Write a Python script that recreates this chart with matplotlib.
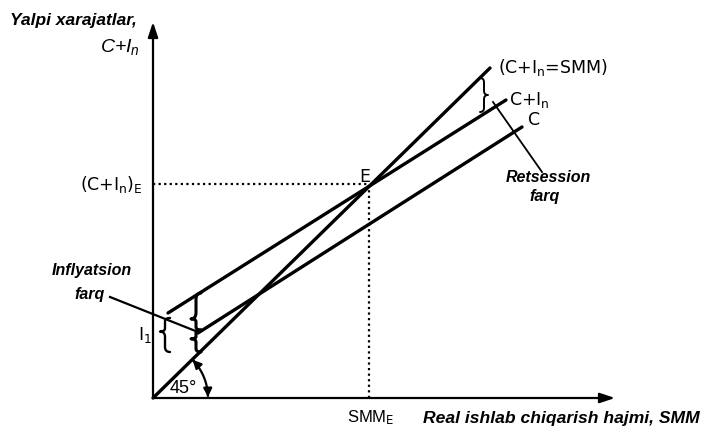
import numpy as np
import matplotlib
matplotlib.use("Agg")
import matplotlib.pyplot as plt
from matplotlib.path import Path
from matplotlib.patches import PathPatch, FancyArrowPatch

plt.rcParams['font.family'] = ['Liberation Sans', 'DejaVu Sans']
plt.rcParams['mathtext.fontset'] = 'custom'
plt.rcParams['mathtext.rm'] = 'DejaVu Sans'
plt.rcParams['mathtext.it'] = 'Liberation Sans:italic'
plt.rcParams['mathtext.default'] = 'regular'

# ---- data (in diagram units) ----
line45_x = [0, 337]
line45_y = [0, 330]
cin_x = [15, 353]          # C + I_n
cin_y = [85, 298]
c_x = [45, 369]            # C
c_y = [65, 271]
axis_x_end = 462
axis_y_end = 376

# equilibrium E: intersection of C+I_n and 45-degree line
s45 = (line45_y[1] - line45_y[0]) / (line45_x[1] - line45_x[0])
scin = (cin_y[1] - cin_y[0]) / (cin_x[1] - cin_x[0])
bcin = cin_y[0] - scin * cin_x[0]
E_x = bcin / (s45 - scin)
E_y = s45 * E_x

fig = plt.figure(figsize=(7.05, 4.36), dpi=100)
ax = fig.add_axes([0, 0, 1, 1])
ax.set_xlim(-153, 552)
ax.set_ylim(-38, 398)
ax.axis('off')

LW = 2.4
# axes with arrows
ax.annotate('', xy=(axis_x_end, 0), xytext=(0, 0),
            arrowprops=dict(arrowstyle='-|>,head_length=0.9,head_width=0.3', lw=1.6, color='black', shrinkA=0, shrinkB=0))
ax.annotate('', xy=(0, axis_y_end), xytext=(0, 0),
            arrowprops=dict(arrowstyle='-|>,head_length=0.9,head_width=0.3', lw=1.6, color='black', shrinkA=0, shrinkB=0))

# lines
ax.plot(line45_x, line45_y, color='black', lw=LW, solid_capstyle='round')
ax.plot(cin_x, cin_y, color='black', lw=LW, solid_capstyle='round')
ax.plot(c_x, c_y, color='black', lw=LW, solid_capstyle='round')

# dotted guides
ax.plot([0, E_x], [E_y + 2, E_y + 2], color='black', lw=1.6, ls=(0, (1, 1.5)))
ax.plot([E_x, E_x], [0, E_y], color='black', lw=1.6, ls=(0, (1, 1.5)))


def brace(x, y0, y1, d, lw=1.6, tip=0.5):
    """vertical curly brace; ends at x, spine at x+d/2, tip at x+d."""
    ym = y0 + (y1 - y0) * tip
    s = x + d / 2
    k0 = (ym - y0) * 0.25
    k1 = (y1 - ym) * 0.25
    verts = [(x, y0), (s, y0), (s, y0 + k0), (s, ym - k0),
             (s, ym), (x + d, ym),
             (s, ym), (s, ym + k1), (s, y1 - k1),
             (s, y1), (x, y1)]
    codes = [Path.MOVETO, Path.CURVE3, Path.CURVE3, Path.LINETO,
             Path.CURVE3, Path.CURVE3,
             Path.CURVE3, Path.CURVE3, Path.LINETO,
             Path.CURVE3, Path.CURVE3]
    ax.add_patch(PathPatch(Path(verts, codes), fill=False, lw=lw, color='black',
                           capstyle='round', joinstyle='round'))


# inflation gap braces
brace(48, 68, 105, -10, lw=2.2, tip=0.3)
brace(48, 46, 68, -10, lw=2.2, tip=0.6)
brace(17, 46, 80, -10, lw=1.7, tip=0.6)
# recession gap brace
brace(327, 286, 320, 8, lw=1.4)

# pointer lines
ax.plot([-43, 45], [101, 66], color='black', lw=1.6)
ax.plot([340, 389], [296, 226], color='black', lw=1.3)

# 45 degree arc with arrows
r = 55
th = np.linspace(np.deg2rad(44), np.deg2rad(1), 40)
arc = Path(np.column_stack([r * np.cos(th), r * np.sin(th)]))
ax.add_patch(FancyArrowPatch(path=arc, arrowstyle='<|-|>,head_length=5,head_width=2.5',
                             color='black', lw=1.6))

UP = dict(family=['DejaVu Sans'], fontsize=12.5)
IT = dict(style='italic', weight='bold')

# texts
ax.text(30, 10, '45°', fontsize=13, ha='center', va='center')
ax.text(-143, 378, 'Yalpi xarajatlar,', fontsize=12.5, ha='left', va='center', **IT)
ax.text(-13, 351, 'C+$\\mathit{I_n}$', fontsize=14, style='italic', ha='right', va='center')
ax.text(-10, E_y + 2, '(C+I$_\\mathrm{n}$)$_\\mathrm{E}$', ha='right', va='center', **UP)
ax.text(E_x - 5, E_y + 9, 'E', ha='center', va='center', **UP)
ax.text(345, 331, '(C+I$_\\mathrm{n}$=SMM)', ha='left', va='center', **UP)
ax.text(356, 298, 'C+I$_\\mathrm{n}$', ha='left', va='center', **UP)
ax.text(375, 278, 'C', ha='left', va='center', **UP)
ax.text(395, 220, 'Retsession', fontsize=11.5, ha='center', va='center', **IT)
ax.text(392, 201, 'farq', fontsize=11.5, ha='center', va='center', **IT)
ax.text(-61, 127, 'Inflyatsion', fontsize=11.5, ha='center', va='center', **IT)
ax.text(-63, 104, 'farq', fontsize=11.5, ha='center', va='center', **IT)
ax.text(-8, 63, 'I$_\\mathrm{1}$', ha='center', va='center', **UP)
ax.text(E_x + 1, -20, 'SMM$_\\mathrm{E}$', fontsize=12, ha='center', va='center')
ax.text(270, -20, 'Real ishlab chiqarish hajmi, SMM', fontsize=12.6, ha='left', va='center', **IT)

fig.savefig('out.png', dpi=100)
